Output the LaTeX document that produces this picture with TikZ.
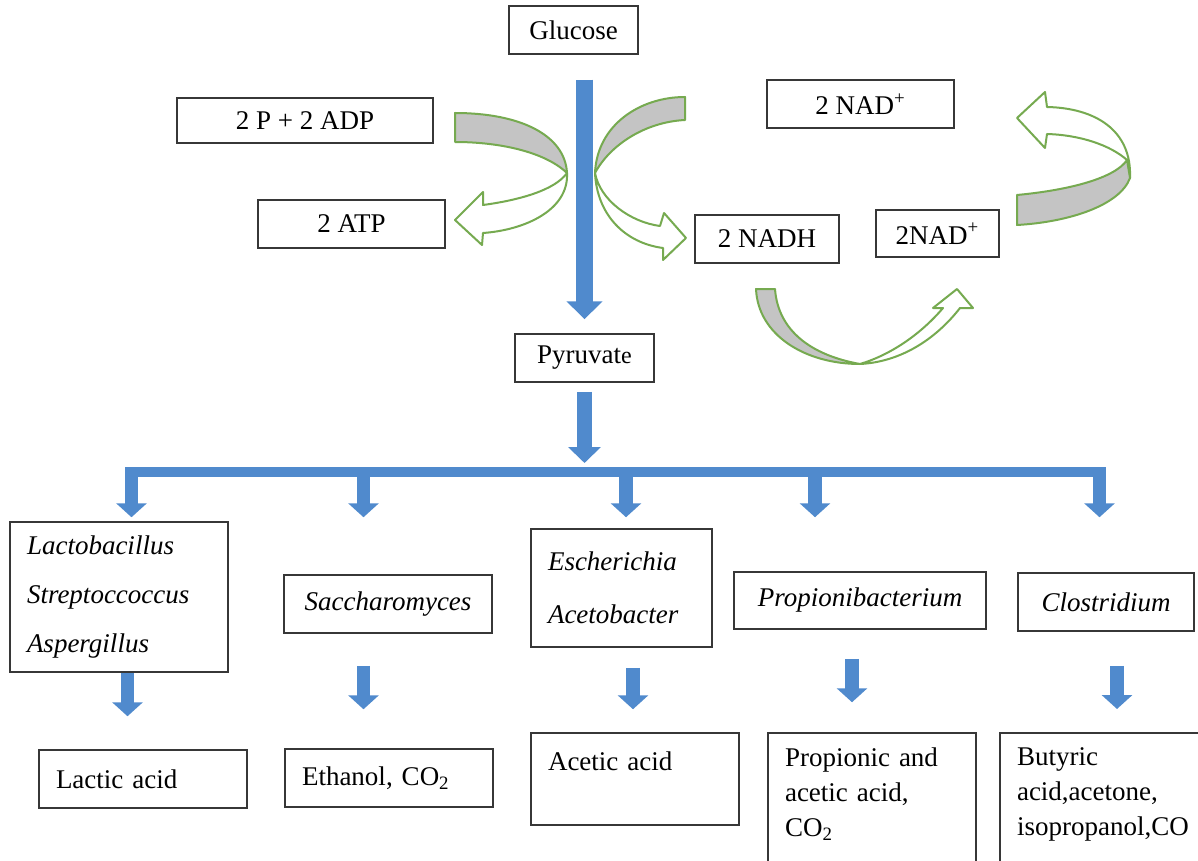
\documentclass[tikz,border=0pt]{standalone}
\usepackage{fontspec}
\setmainfont{Liberation Serif}
\usetikzlibrary{arrows.meta}

\definecolor{arrowblue}{RGB}{80,138,205}
\definecolor{ribbongreen}{RGB}{118,170,80}
\definecolor{ribbongrey}{RGB}{196,196,196}
\definecolor{boxline}{RGB}{55,55,55}

\begin{document}
\begin{tikzpicture}[x=0.5pt, y=-0.5pt, font=\fontsize{13.5}{16}\selectfont]

\tikzstyle{block} = [rectangle, draw=boxline, line width=0.75pt, inner sep=0pt,
text centered]
\tikzstyle{genus} = [block, font=\fontsize{13.5}{16}\selectfont\itshape]
\tikzstyle{names} = [block, align=left, inner xsep=8.5pt,
font=\fontsize{13.5}{24.5}\selectfont\itshape]
\tikzstyle{product} = [block, align=left, inner xsep=8.5pt,
font=\fontsize{13.5}{17.5}\selectfont]
\tikzstyle{edge} = [draw=boxline, line width=0.75pt]
\tikzstyle{fat} = [draw=arrowblue, line width=8.5pt, -{Triangle[length=9pt,width=17.5pt]}]
\tikzstyle{mid} = [draw=arrowblue, line width=7.5pt, -{Triangle[length=8pt,width=16pt]}]
\tikzstyle{drop} = [draw=arrowblue, line width=6.75pt, -{Triangle[length=7pt,width=15pt]}]
\tikzstyle{front} = [draw=ribbongreen, line width=1pt, fill=white, line join=round]
\tikzstyle{back} = [front, fill=ribbongrey]

\fill[white] (0,0) rectangle (1198,861);
\useasboundingbox (0,0) rectangle (1198,861);
\clip (0,0) rectangle (1198,861);
\coordinate (rim) at (1198,0);

% glycolysis
\node [block, minimum width=64.5pt, minimum height=24pt] (glucose) at (573.5,30) {Glucose};
\node [block, minimum width=128pt, minimum height=22.5pt] (adp) at (305,120.5) {2 P + 2 ADP};
\node [block, minimum width=93.5pt, minimum height=24pt] (atp) at (351.5,224) {2 ATP};
\node [block, minimum width=93.5pt, minimum height=24pt] (nadtop) at (860.5,104) {2 NAD\textsuperscript{+}};
\node [block, minimum width=72pt, minimum height=24pt] (nadh) at (767,239) {2 NADH};
\node [block, minimum width=61.5pt, minimum height=23.5pt] (nadr) at (937.5,233.5) {2NAD\textsuperscript{+}};
\node [block, minimum width=69.5pt, minimum height=24pt] (pyr) at (584.5,358) {Pyruvat{\fontsize{12}{14}\selectfont e}};

% curved arrows
\path [front] (567,173) .. controls (569,210) and (525,230) .. (483,233) -- (482,245)
  -- (455,220) -- (483,192) -- (483,205) .. controls (520,200) and (555,190) .. (567,173) -- cycle;
\path [back] (455,113) .. controls (520,113) and (565,135) .. (567,173)
  .. controls (545,152) and (500,142) .. (455,142) -- cycle;
\path [front] (595,173) .. controls (597,215) and (625,243) .. (663,248) -- (663,260)
  -- (686,238) -- (664,213) -- (660,226) .. controls (630,222) and (600,200) .. (595,173) -- cycle;
\path [back] (685,97) .. controls (640,97) and (597,125) .. (595,173)
  .. controls (610,145) and (645,122) .. (685,120) -- cycle;
\path [front] (860,364) .. controls (900,362) and (935,340) .. (960,308) -- (973,308)
  -- (957,289) -- (933,308) -- (943,308) .. controls (920,335) and (890,355) .. (860,364) -- cycle;
\path [back] (756,289) -- (775,289) .. controls (778,330) and (810,355) .. (860,364)
  .. controls (805,364) and (758,335) .. (756,289) -- cycle;
\path [front] (1127,160) .. controls (1110,145) and (1080,135) .. (1047,134) -- (1045,148)
  -- (1017,118) -- (1045,92) -- (1047,107) .. controls (1095,108) and (1132,130) .. (1130,178) -- cycle;
\path [back] (1017,195) .. controls (1070,190) and (1115,178) .. (1127,160) -- (1130,178)
  .. controls (1120,205) and (1070,222) .. (1017,225) -- cycle;

% organisms
\node [names, text width=92pt, minimum height=75pt] (lacto) at (119,597)
  {Lactobacillus\\Streptoccoccus\\Aspergillus};
\node [genus, minimum width=104pt, minimum height=29pt] (sacch) at (388,604) {Saccharomyces};
\node [names, text width=73.5pt, minimum height=59pt,
  font=\fontsize{13.5}{26.5}\selectfont\itshape] (esch) at (621.5,588) {Escherichia\\Acetobacter};
\node [genus, minimum width=126pt, minimum height=28.5pt] (propi) at (860,600.5) {Propionibacterium};
\node [genus, minimum width=88pt, minimum height=29pt] (clos) at (1106,602) {Clostridium};

% products
\node [product, text width=87pt, minimum height=29pt] (lactic) at (143,779) {Lactic acid};
\node [product, text width=87pt, minimum height=29pt] (ethanol) at (389,778) {Ethanol, CO\textsubscript{2}};
\node [product, text width=87pt, minimum height=46pt] (acetic) at (635,779) {Acetic acid\\\mbox{}};
\node [product, text width=87pt, minimum height=76.5pt] (propac) at (872,809.5)
  {Propionic and\\acetic acid,\\CO\textsubscript{2}\\\mbox{}};
\node [product, draw=none, outer sep=0pt, text width=123pt, minimum height=76.5pt] (butyr) at (1140,809.5)
  {Butyric\\acid,acetone,\\isopropanol,CO\\\mbox{}};
\draw [edge] (butyr.south west) -- (butyr.north west) -- (butyr.north west -| rim);

% blue arrows
\coordinate (barL) at (125,472);
\coordinate (barR) at (1106,472);
\coordinate (d1) at (131.5,472);
\coordinate (d2) at (363.5,472);
\coordinate (d3) at (626,472);
\coordinate (d4) at (815,472);
\coordinate (d5) at (1099.5,472);

\draw [fat, shorten <=12.5pt, shorten >=7pt] (glucose.south -| pyr.north) -- (pyr.north);
\draw [mid, shorten <=4.5pt, shorten >=4.5pt] (pyr.south) -- (pyr.south |- barL);
\draw [draw=arrowblue, line width=5pt] (barL) -- (barR);

\draw [drop, shorten >=2pt] (d1) -- (d1 |- lacto.north);
\draw [drop, shorten >=28.5pt] (d2) -- (d2 |- sacch.north);
\draw [drop, shorten >=5.5pt] (d3) -- (d3 |- esch.north);
\draw [drop, shorten >=27pt] (d4) -- (d4 |- propi.north);
\draw [drop, shorten >=27.5pt] (d5) -- (d5 |- clos.north);

\draw [drop, shorten >=16.5pt] ([xshift=4.25pt]lacto.south) -- ([xshift=4.25pt]lacto.south |- lactic.north);
\draw [drop, shorten <=16pt, shorten >=19.5pt] ([xshift=-12.25pt]sacch.south) -- ([xshift=-12.25pt]sacch.south |- ethanol.north);
\draw [drop, shorten <=10pt, shorten >=11.5pt] ([xshift=5.75pt]esch.south) -- ([xshift=5.75pt]esch.south |- acetic.north);
\draw [drop, shorten <=14.5pt, shorten >=15pt] ([xshift=-4pt]propi.south) -- ([xshift=-4pt]propi.south |- propac.north);
\draw [drop, shorten <=17pt, shorten >=12pt] ([xshift=5.5pt]clos.south) -- ([xshift=5.5pt]clos.south |- butyr.north);

\end{tikzpicture}
\end{document}
